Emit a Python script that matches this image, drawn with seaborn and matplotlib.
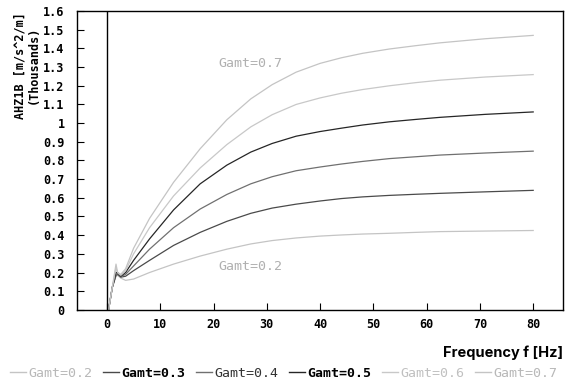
import numpy as np
import pandas as pd
import matplotlib
matplotlib.use("Agg")
import matplotlib.pyplot as plt
import seaborn as sns
from matplotlib.lines import Line2D

# frequency points (Hz)
freq = [0.3, 1.0, 1.7, 2.0, 2.6, 3.5, 5, 8, 12.5, 17.5, 22.5, 27, 31, 35.5, 40, 44, 48, 53, 58, 62.5, 71, 80]

# AHZ1B (thousands) per Gamt
g02 = [0.0, 0.12, 0.18, 0.185, 0.17, 0.158, 0.165, 0.20, 0.245, 0.288, 0.325, 0.353, 0.371, 0.385, 0.395, 0.401, 0.406, 0.41, 0.415, 0.419, 0.422, 0.425]
g03 = [0.0, 0.12, 0.185, 0.19, 0.175, 0.18, 0.21, 0.265, 0.345, 0.415, 0.474, 0.517, 0.545, 0.566, 0.583, 0.596, 0.605, 0.613, 0.619, 0.624, 0.632, 0.64]
g04 = [0.0, 0.12, 0.19, 0.195, 0.178, 0.19, 0.235, 0.325, 0.44, 0.54, 0.618, 0.675, 0.713, 0.745, 0.765, 0.781, 0.795, 0.81, 0.82, 0.829, 0.84, 0.85]
g05 = [0.0, 0.12, 0.20, 0.20, 0.18, 0.20, 0.265, 0.38, 0.535, 0.675, 0.775, 0.845, 0.891, 0.93, 0.955, 0.973, 0.99, 1.007, 1.02, 1.031, 1.047, 1.06]
g06 = [0.0, 0.12, 0.225, 0.20, 0.185, 0.21, 0.30, 0.44, 0.61, 0.76, 0.885, 0.98, 1.045, 1.10, 1.135, 1.16, 1.18, 1.20, 1.217, 1.23, 1.247, 1.26]
g07 = [0.0, 0.12, 0.245, 0.20, 0.19, 0.22, 0.33, 0.49, 0.683, 0.863, 1.018, 1.13, 1.206, 1.273, 1.32, 1.35, 1.374, 1.397, 1.415, 1.43, 1.452, 1.47]

labels = ["Gamt=0.2", "Gamt=0.3", "Gamt=0.4", "Gamt=0.5", "Gamt=0.6", "Gamt=0.7"]
series = [g02, g03, g04, g05, g06, g07]
line_colors = ["#c4c4c4", "#4a4a4a", "#707070", "#262626", "#c8c8c8", "#c4c4c4"]
text_colors = ["#b8b8b8", "#000000", "#333333", "#000000", "#c0c0c0", "#b8b8b8"]
text_weight = ["normal", "bold", "normal", "bold", "normal", "normal"]

df = pd.concat([pd.DataFrame({"freq": freq, "val": s, "Gamt": lab})
                for s, lab in zip(series, labels)], ignore_index=True)

mono = "DejaVu Sans Mono"

fig = plt.figure(figsize=(5.67, 3.83), dpi=100)
ax = fig.add_axes([0.136, 0.191, 0.857, 0.78])

sns.lineplot(data=df, x="freq", y="val", hue="Gamt", hue_order=labels,
             palette=dict(zip(labels, line_colors)), linewidth=0.9,
             legend=False, ax=ax, sort=False)

ax.axvline(0, color="black", linewidth=1)
ax.set_xlim(-5.6, 85.6)
ax.set_ylim(0, 1.6)
ax.set_xticks(range(0, 81, 10))
yt = np.arange(0, 1.61, 0.1)
ax.set_yticks(yt)
ax.set_yticklabels(["0" if v == 0 else ("1" if abs(v - 1) < 1e-9 else f"{v:.1f}") for v in yt])
ax.tick_params(direction="in", length=5, width=0.8, top=False, right=False)
ax.tick_params(axis="y", pad=9)
ax.tick_params(axis="x", pad=6)
for t in ax.get_xticklabels() + ax.get_yticklabels():
    t.set_fontfamily(mono)
    t.set_fontweight("bold")
    t.set_fontsize(8.5)
for sp in ax.spines.values():
    sp.set_color("black")
    sp.set_linewidth(1)

ax.set_xlabel("")
ax.set_ylabel("")
fig.text(0.047, 0.83, "AHZ1B [m/s^2/m]\n(Thousands)", rotation=90, ha="center", va="center",
         multialignment="center", fontfamily=mono, fontweight="bold", fontsize=8.5,
         linespacing=1.05)

ax.text(21, 1.32, "Gamt=0.7", fontfamily=mono, fontsize=9.5, color="#b0b0b0",
        va="center", ha="left")
ax.text(21, 0.23, "Gamt=0.2", fontfamily=mono, fontsize=9.5, color="#b0b0b0",
        va="center", ha="left")

fig.text(0.993, 0.078, "Frequency f [Hz]", ha="right", va="center",
         fontsize=10.5, fontweight="bold", fontfamily="Inter")

handles = [Line2D([0], [0], color=c, linewidth=1) for c in line_colors]
leg = fig.legend(handles, labels, loc="center", bbox_to_anchor=(0.5, 0.026),
                 ncol=6, frameon=False, handlelength=1.2, handletextpad=0.2,
                 columnspacing=0.8, borderpad=0, prop={"family": mono, "size": 9.5})
for t, c, w in zip(leg.get_texts(), text_colors, text_weight):
    t.set_color(c)
    t.set_fontweight(w)

fig.savefig("out.png", dpi=100)
